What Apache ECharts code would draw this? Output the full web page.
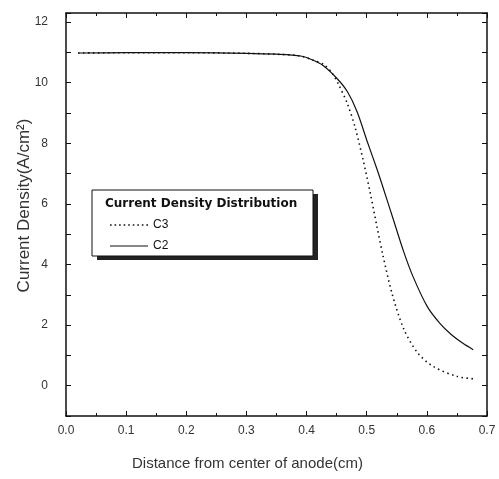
<!DOCTYPE html>
<html>
<head>
<meta charset="utf-8">
<script src="https://cdn.jsdelivr.net/npm/echarts@6/dist/echarts.min.js"></script>
<style>html,body{margin:0;padding:0;background:#fff}#c{width:499px;height:479px}</style>
</head>
<body>
<div id="c"></div>
<script>
// Data
const c2X = [0.02, 0.10, 0.20, 0.30, 0.35, 0.39, 0.41, 0.428, 0.451, 0.468, 0.484, 0.501, 0.517, 0.527, 0.544, 0.561, 0.577, 0.601, 0.622, 0.640, 0.660, 0.677];
const c2Y = [10.98, 10.99, 10.99, 10.97, 10.94, 10.88, 10.75, 10.56, 10.13, 9.7, 9.04, 8.05, 7.15, 6.55, 5.5, 4.45, 3.6, 2.6, 2.05, 1.7, 1.4, 1.19];
const c3X = [0.02, 0.10, 0.20, 0.30, 0.35, 0.39, 0.41, 0.43, 0.443, 0.453, 0.468, 0.481, 0.494, 0.506, 0.517, 0.527, 0.542, 0.561, 0.584, 0.611, 0.651, 0.677];
const c3Y = [10.98, 10.99, 10.99, 10.97, 10.94, 10.88, 10.75, 10.58, 10.3, 9.95, 9.3, 8.5, 7.45, 6.35, 5.25, 4.3, 3.05, 1.9, 1.1, 0.63, 0.3, 0.23];
const xTicks = [0.0, 0.1, 0.2, 0.3, 0.4, 0.5, 0.6, 0.7];
const yTickLabels = [0, 2, 4, 6, 8, 10, 12];
const seriesNames = ['C3', 'C2'];
const legendTitle = 'Current Density Distribution';
const xName = 'Distance from center of anode(cm)';
const yName = 'Current Density(A/cm²)';

const pairs = (xs, ys) => xs.map((x, i) => [x, ys[i]]);
const font = 'Liberation Sans, Arial, sans-serif';
// legend icons: solid bar and a row of dots
let dotPath = 'path://';
for (let i = 0; i < 38; i += 4.5) dotPath += 'M' + i + ',0h1.6v1.6h-1.6z';
const solidPath = 'path://M0,0H38V1.2H0Z';

const chart = echarts.init(document.getElementById('c'));
const axisLine = { onZero: false, lineStyle: { color: '#111', width: 1.5 } };
const tick = { inside: true, length: 5, lineStyle: { color: '#111' } };
const minor = { show: true, splitNumber: 2, length: 3, lineStyle: { color: '#111' } };
chart.setOption({
  animation: false,
  grid: { left: 66, right: 12, top: 13, bottom: 63 },
  xAxis: [{
    type: 'value', min: xTicks[0], max: xTicks[xTicks.length - 1], interval: 0.1,
    axisLine: axisLine, axisTick: tick, minorTick: minor, splitLine: { show: false },
    axisLabel: { margin: 9, fontSize: 12, color: '#333', fontFamily: font,
      formatter: v => v.toFixed(1) },
    name: xName, nameLocation: 'middle', nameGap: 40, nameMoveOverlap: false,
    nameTextStyle: { fontSize: 15, color: '#333', fontFamily: font, padding: [0, 58, 0, 0] }
  }, {
    type: 'value', position: 'top', min: xTicks[0], max: xTicks[xTicks.length - 1], interval: 0.1,
    axisLine: axisLine, axisTick: tick, minorTick: minor,
    splitLine: { show: false }, axisLabel: { show: false }
  }],
  yAxis: [{
    type: 'value', min: -1, max: 12.3, interval: 1,
    axisLine: axisLine, axisTick: tick, splitLine: { show: false },
    axisLabel: { margin: 18, fontSize: 12, color: '#333', fontFamily: font,
      formatter: v => yTickLabels.indexOf(v) >= 0 ? String(v) : '' },
    name: yName, nameLocation: 'middle', nameGap: 33, nameMoveOverlap: false,
    nameTextStyle: { fontSize: 17, color: '#333', fontFamily: font, padding: [0, 0, 0, 18] }
  }, {
    type: 'value', position: 'right', min: -1, max: 12.3, interval: 1,
    axisLine: axisLine, axisTick: tick,
    splitLine: { show: false }, axisLabel: { show: false }
  }],
  legend: {
    data: [{ name: seriesNames[0], icon: dotPath }, { name: seriesNames[1], icon: solidPath }],
    orient: 'vertical', left: 110, top: 219, padding: 0,
    itemWidth: 38, itemHeight: 10, itemGap: 9, z: 10,
    itemStyle: { color: '#111' },
    textStyle: { fontSize: 12, color: '#111', fontFamily: font }
  },
  graphic: [{
    type: 'rect', z: 4, shape: { x: 97, y: 194, width: 221, height: 66 },
    style: { fill: '#222' }
  }, {
    type: 'rect', z: 5, shape: { x: 92, y: 190, width: 221, height: 66 },
    style: { fill: '#fff', stroke: '#111', lineWidth: 1 }
  }, {
    type: 'text', z: 6, left: 105, top: 198,
    style: { text: legendTitle, font: 'bold 12px "DejaVu Sans", sans-serif', fill: '#111' }
  }],
  series: [{
    name: seriesNames[0], type: 'line', data: pairs(c3X, c3Y), symbol: 'none', smooth: 0.3,
    lineStyle: { color: '#111', width: 1.6, type: [1.5, 3.5] }, itemStyle: { color: '#111' }
  }, {
    name: seriesNames[1], type: 'line', data: pairs(c2X, c2Y), symbol: 'none', smooth: 0.3,
    lineStyle: { color: '#111', width: 1.2 }, itemStyle: { color: '#111' }
  }]
});
</script>
</body>
</html>
